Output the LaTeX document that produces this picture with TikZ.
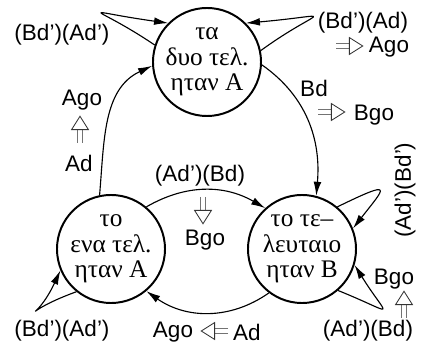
\documentclass[tikz,border=0pt]{standalone}
\usepackage{fontspec}
\setmainfont{Liberation Serif}
\setsansfont{Liberation Sans}
\usetikzlibrary{arrows.meta}

\begin{document}
\begin{tikzpicture}[x=0.025cm, y=0.025cm, >={Latex[length=10pt,width=5.5pt]},
    state/.style={draw, circle, line width=1.4pt, minimum size=2.7cm, inner sep=0pt,
        align=center, font=\fontsize{18}{18}\selectfont},
    lbl/.style={font=\sffamily\fontsize{16}{16}\selectfont, inner sep=0pt},
    trans/.style={->, line width=0.8pt},
    % double fleche creuse (implication)
    dimp/.pic={
        \draw[black!55, line width=0.6pt] (0pt,1.8pt) -- (11pt,1.8pt) (0pt,-1.8pt) -- (11pt,-1.8pt);
        \draw[black!80, line width=0.6pt, fill=white] (9.5pt,6pt) -- (19pt,0pt) -- (9.5pt,-6pt) -- cycle;
    }]

    \useasboundingbox (0,0) rectangle (428,348);

    % les trois etats
    \node[state] (two)  at (207,286) {τα\\δυο τελ.\\ηταν A};
    \node[state] (one)  at (111,99)  {το\\ενα τελ.\\ηταν A};
    \node[state] (last) at (302,99)  {το τε--\\λευταιο\\ηταν B};

    % transitions entre etats
    \draw[trans] (one.102) to[out=85, in=205] (two.184);
    \draw[trans] (two.-3) to[out=-35, in=85] (last.75);
    \draw[trans] (one.50) to[out=30, in=150] (last.132);
    \draw[trans] (last.-127) to[out=-145, in=-35] (one.-50);

    % boucles
    \draw[trans] (two.162) .. controls +(146:75) and +(172:95) .. (two.135);
    \draw[trans] (two.12) .. controls +(36:75) and +(5:95) .. (two.45);
    \draw[trans] (last.50) .. controls +(26:65) and +(52:52) .. (last.22);
    \draw[trans] (last.-49) .. controls +(-22:65) and +(-58:65) .. (last.-17);
    \draw[trans] (one.-129) .. controls +(200:65) and +(245:60) .. (one.-157);

    % etiquettes
    \node[lbl] (bdadTL) at (62,313)  {(Bd')(Ad')};
    \node[lbl] (bdadTR) at (363,325) {(Bd')(Ad)};
    \node[lbl] (agoTR)  at (389,301) {Ago};
    \node[lbl] (bdT)    at (314,260) {Bd};
    \node[lbl] (bgoT)   at (374,233) {Bgo};
    \node[lbl] (agoL)   at (82,248)  {Ago};
    \node[lbl] (adL)    at (79,185)  {Ad};
    \node[lbl] (adbdM)  at (200,172) {(Ad')(Bd)};
    \node[lbl] (bgoM)   at (205,108) {Bgo};
    \node[lbl] (agoB)   at (173,16)  {Ago};
    \node[lbl] (adB)    at (247,16)  {Ad};
    \node[lbl, rotate=90] (adbdR) at (405,158) {(Ad')(Bd')};
    \node[lbl] (bgoR)   at (394,69)  {Bgo};
    \node[lbl] (adbdBR) at (368,17)  {(Ad')(Bd)};
    \node[lbl] (bdadBL) at (62,17)   {(Bd')(Ad')};

    % implications
    \pic at (336,302) {dimp};
    \pic at (318,236) {dimp};
    \pic[rotate=180] at (228,17) {dimp};
    \pic[rotate=90] at (80,205) {dimp};
    \pic[rotate=-90] at (203,151) {dimp};
    \pic[rotate=90] at (404,30) {dimp};
\end{tikzpicture}
\end{document}
